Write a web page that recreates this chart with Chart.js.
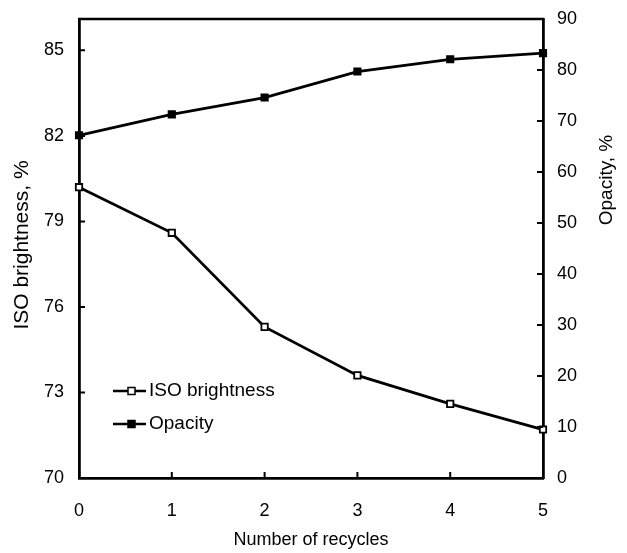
<!DOCTYPE html>
<html>
<head>
<meta charset="utf-8">
<script src="https://cdn.jsdelivr.net/npm/chart.js@4/dist/chart.umd.min.js"></script>
<style>
  html, body { margin: 0; padding: 0; background: #fff; }
  #chart { display: block; }
</style>
</head>
<body>
<canvas id="chart" width="627" height="553"></canvas>
<script>
const recycles = ['0', '1', '2', '3', '4', '5'];
const brightness = [80.2, 78.6, 75.3, 73.6, 72.6, 71.7];
const opacity = [67.2, 71.3, 74.6, 79.7, 82.1, 83.3];
const brightnessTicks = [70, 73, 76, 79, 82, 85];
const opacityTicks = [0, 10, 20, 30, 40, 50, 60, 70, 80, 90];

const FONT = 'Arial, "Liberation Sans", Helvetica, sans-serif';

// ticks drawn pointing into the plot, titles, top border and inner legend
const framePlugin = {
    id: 'frame',
    afterDraw(chart) {
        const ctx = chart.ctx;
        const a = chart.chartArea;
        const sx = chart.scales.x, yl = chart.scales.yL, yr = chart.scales.yR;
        ctx.save();
        ctx.strokeStyle = '#000';
        ctx.lineWidth = 2.5;
        ctx.beginPath();
        ctx.moveTo(a.left - 1, a.top);
        ctx.lineTo(a.right + 1, a.top);
        ctx.stroke();

        ctx.lineWidth = 2;
        ctx.beginPath();
        brightnessTicks.forEach(v => {
            const y = yl.getPixelForValue(v);
            ctx.moveTo(a.left, y); ctx.lineTo(a.left + 6, y);
        });
        opacityTicks.forEach(v => {
            const y = yr.getPixelForValue(v);
            ctx.moveTo(a.right, y); ctx.lineTo(a.right - 6, y);
        });
        recycles.forEach((r, i) => {
            const x = sx.getPixelForValue(i);
            ctx.moveTo(x, a.bottom); ctx.lineTo(x, a.bottom - 6);
        });
        ctx.stroke();

        // axis titles
        ctx.fillStyle = '#000';
        ctx.textAlign = 'center';
        ctx.textBaseline = 'middle';
        ctx.font = '18px ' + FONT;
        ctx.fillText('Number of recycles', (a.left + a.right) / 2, 540);

        ctx.save();
        ctx.translate(22, 245);
        ctx.rotate(-Math.PI / 2);
        ctx.font = '21px ' + FONT;
        ctx.fillText('ISO brightness, %', 0, 0);
        ctx.restore();

        ctx.save();
        ctx.translate(607, 180);
        ctx.rotate(-Math.PI / 2);
        ctx.font = '19px ' + FONT;
        ctx.fillText('Opacity, %', 0, 0);
        ctx.restore();

        // legend
        const items = [
            { label: 'ISO brightness', fill: '#fff', y: 391 },
            { label: 'Opacity', fill: '#000', y: 424 }
        ];
        ctx.textAlign = 'left';
        ctx.font = '19px ' + FONT;
        items.forEach(it => {
            ctx.lineWidth = 2.5;
            ctx.beginPath();
            ctx.moveTo(113, it.y); ctx.lineTo(146, it.y);
            ctx.stroke();
            ctx.lineWidth = 1.5;
            ctx.fillStyle = it.fill;
            ctx.fillRect(128, it.y - 3.5, 7, 7);
            ctx.strokeRect(128, it.y - 3.5, 7, 7);
            ctx.fillStyle = '#000';
            ctx.fillText(it.label, 149, it.y);
        });
        ctx.restore();
    }
};

const fitY = w => s => { s.width = w; s.paddingTop = 0; s.paddingBottom = 0; };

new Chart(document.getElementById('chart'), {
    type: 'line',
    data: {
        labels: recycles,
        datasets: [
            {
                label: 'ISO brightness',
                data: brightness,
                yAxisID: 'yL',
                borderColor: '#000',
                borderWidth: 2.8,
                backgroundColor: '#fff',
                pointStyle: 'rect',
                pointRadius: 4.5,
                pointBorderWidth: 1.8,
                pointBorderColor: '#000',
                pointBackgroundColor: '#fff',
                tension: 0,
                clip: false
            },
            {
                label: 'Opacity',
                data: opacity,
                yAxisID: 'yR',
                borderColor: '#000',
                borderWidth: 2.8,
                backgroundColor: '#000',
                pointStyle: 'rect',
                pointRadius: 4.5,
                pointBorderWidth: 1.8,
                pointBorderColor: '#000',
                pointBackgroundColor: '#000',
                tension: 0,
                clip: false
            }
        ]
    },
    options: {
        responsive: false,
        animation: false,
        layout: { padding: { top: 19, left: 0, right: 0, bottom: 0 } },
        plugins: {
            legend: { display: false },
            tooltip: { enabled: false }
        },
        scales: {
            x: {
                type: 'category',
                offset: false,
                grid: { display: false, drawTicks: false },
                border: { display: true, color: '#000', width: 2.8 },
                ticks: { color: '#000', padding: 22, font: { family: FONT, size: 18 }, maxRotation: 0 },
                afterFit: s => { s.height = 75; s.paddingLeft = 0; s.paddingRight = 0; }
            },
            yL: {
                position: 'left',
                min: 70,
                max: 86.1,
                afterBuildTicks: s => { s.ticks = brightnessTicks.map(v => ({ value: v })); },
                grid: { display: false, drawTicks: false },
                border: { display: true, color: '#000', width: 2.8 },
                ticks: { color: '#000', padding: 15, font: { family: FONT, size: 18 } },
                afterFit: fitY(79)
            },
            yR: {
                position: 'right',
                min: 0,
                max: 90,
                afterBuildTicks: s => { s.ticks = opacityTicks.map(v => ({ value: v })); },
                grid: { display: false, drawTicks: false },
                border: { display: true, color: '#000', width: 2.8 },
                ticks: { color: '#000', padding: 14, font: { family: FONT, size: 18 } },
                afterFit: fitY(84)
            }
        }
    },
    plugins: [framePlugin]
});
</script>
</body>
</html>
